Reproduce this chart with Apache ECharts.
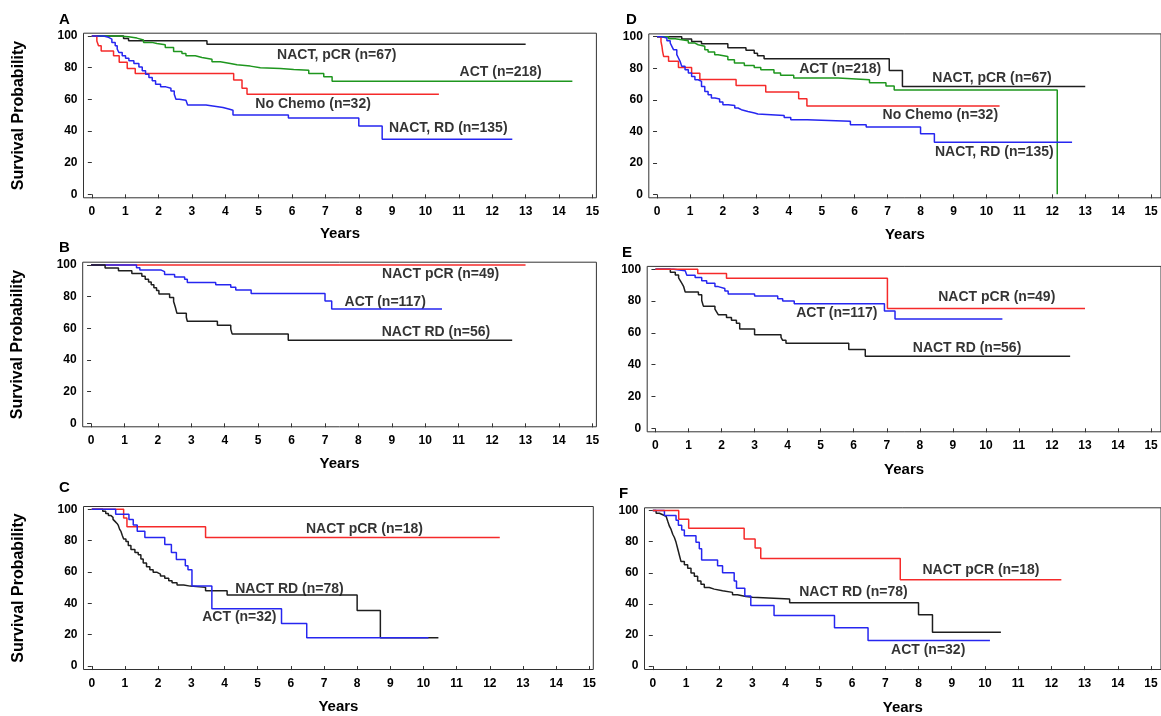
<!DOCTYPE html>
<html><head><meta charset="utf-8">
<script src="https://cdn.jsdelivr.net/npm/echarts@6/dist/echarts.min.js"></script>
<style>html,body{margin:0;padding:0;background:#fff}#c{width:1161px;height:716px}</style>
</head><body><div id="c"></div>
<script>
// ---------- tick labels ----------
const xTicks = [0,1,2,3,4,5,6,7,8,9,10,11,12,13,14,15];
const yTicks = [0,20,40,60,80,100];

// ---------- Panel A ----------
const A_nactPCR = [[0,100],[0.95,98.5],[1.1,97],[3.45,94.8],[13.0,94.8]];
const A_act = [[0,100],[0.8,99.6],[1.1,98.7],[1.35,97.5],[1.55,96],[1.8,95.3],[1.95,94.5],[2.2,92.8],[2.45,90.3],[2.7,89],[2.82,87.5],[3.1,86.5],[3.3,85.4],[3.6,83.7],[3.85,82.7],[4.15,81.8],[4.35,81],[4.75,79.9],[5.05,79.5],[5.65,78.9],[6.05,78.4],[6.5,76.4],[6.95,74.3],[7.2,71.5],[14.4,71.5]];
const A_noChemo = [[0,100],[0.15,96.9],[0.2,93.8],[0.28,90.6],[0.65,87.5],[0.82,83.5],[1.06,79.5],[1.3,76.3],[4.25,72.3],[4.5,67],[4.65,63.2],[10.4,63.2]];
const A_nactRD = [[0,100],[0.35,100],[0.4,99.2],[0.5,98.1],[0.6,96],[0.7,93.9],[0.76,91.8],[0.81,89.6],[0.91,87.5],[1.01,86],[1.11,84.4],[1.26,82.7],[1.41,80.5],[1.51,78],[1.61,75.9],[1.71,73.8],[1.81,71.7],[1.91,69.6],[2.06,67.9],[2.22,67],[2.37,65.3],[2.47,63.2],[2.52,60],[2.62,59.4],[2.82,58.6],[2.87,56.4],[3.42,55.8],[3.47,55.2],[3.83,54.8],[3.93,53.7],[4.13,53.1],[4.23,50.1],[5.89,48.2],[8.0,43.2],[8.7,34.8],[12.6,34.8]];

// ---------- Panel B ----------
const B_nactPCR = [[0,100],[13.0,100]];
const B_act = [[0,100],[1.36,98.3],[1.46,96.8],[2.1,95.8],[2.2,94],[2.5,92.5],[2.8,91],[2.88,89],[3.73,87.6],[4.18,86],[4.33,84.2],[4.79,82],[7.0,77.3],[7.2,72.2],[10.5,72.2]];
const B_nactRD = [[0,100],[0.42,98.2],[0.82,96.4],[1.22,94.6],[1.52,92.9],[1.62,91.1],[1.72,89.3],[1.8,87.5],[1.88,85.7],[1.96,83.9],[2.03,81.7],[2.35,79.5],[2.47,77],[2.52,73.5],[2.57,69.5],[2.85,67],[2.88,64.5],[3.78,62],[4.18,59.5],[4.22,56.5],[5.9,52.5],[12.6,52.5]];

// ---------- Panel C ----------
const C_nactPCR = [[0,100],[0.96,94.4],[1.06,88.9],[3.43,82],[12.3,82]];
const C_act = [[0,100],[0.72,96.8],[1.12,93.5],[1.25,90],[1.37,86],[1.6,82],[2.2,77.5],[2.4,72.5],[2.55,68],[2.82,64],[2.9,61.5],[3.02,51],[3.62,36.5],[5.72,27.2],[6.48,18],[10.15,18]];
const C_nactRD = [[0,100],[0.33,98.7],[0.42,97.4],[0.5,96.1],[0.57,94.9],[0.64,93.6],[0.7,92.3],[0.76,91],[0.8,89.7],[0.84,87.2],[0.88,85.9],[0.92,83.3],[0.96,81],[1.03,79.5],[1.1,76.9],[1.18,74.4],[1.3,72.5],[1.4,71],[1.48,68.3],[1.55,65.8],[1.65,63.3],[1.75,61.5],[1.85,59.8],[1.97,58.7],[2.07,57.4],[2.2,56],[2.32,54.5],[2.42,53.2],[2.57,51.7],[2.77,51],[2.97,50.2],[3.43,48.1],[4.08,45.3],[8.0,35.5],[8.7,18],[10.45,18]];

// ---------- Panel D ----------
const D_nactPCR = [[0,100],[0.75,98.5],[1.05,97],[1.35,95.5],[2.15,93],[2.7,91.5],[2.95,89.5],[3.05,88],[3.25,86],[7.05,78.5],[7.45,68.5],[13.0,68.5]];
const D_act = [[0,100],[0.35,98.7],[0.55,98.1],[0.75,97.5],[0.95,96],[1.15,94.9],[1.25,93.9],[1.45,91.8],[1.55,90.3],[1.75,88.6],[1.85,87.5],[2.15,85.4],[2.35,83.3],[2.65,81.8],[2.95,80.5],[3.15,79.1],[3.55,77],[3.75,75.5],[4.15,73.8],[5.5,72.7],[6.45,70.8],[6.95,68.7],[7.2,66.2],[12.15,0]];
const D_noChemo = [[0,100],[0.12,96.9],[0.15,93.8],[0.17,90.6],[0.2,87.5],[0.35,84.4],[0.65,80.5],[1.05,76.8],[1.3,72.8],[2.4,69],[3.3,65],[4.3,60.6],[4.55,56],[10.4,56]];
const D_nactRD = [[0,100],[0.15,99.2],[0.3,97.5],[0.4,96],[0.45,93.9],[0.5,91.8],[0.6,88.6],[0.65,86.5],[0.7,84.4],[0.75,81.2],[0.85,79.1],[0.95,77],[1.05,74.8],[1.15,72.7],[1.25,71.7],[1.35,68.5],[1.45,65.3],[1.55,63.2],[1.65,61.1],[1.76,60.5],[1.9,58.6],[2.0,56.9],[2.16,56.4],[2.36,54.8],[2.46,53.7],[2.56,52.6],[2.76,51.6],[2.96,51],[3.06,50.1],[3.86,48.8],[4.06,47.4],[4.56,46.3],[5.87,44.2],[6.35,42.8],[8.0,38.5],[8.42,33],[12.6,33]];

// ---------- Panel E ----------
const E_nactPCR = [[0,100],[1.28,97.3],[2.15,94.4],[7.02,75.4],[13.0,75.4]];
const E_act = [[0,100],[0.55,99],[0.9,97.9],[0.95,96.2],[1.2,94.8],[1.4,92.7],[1.55,91.2],[1.8,89.1],[1.9,87.9],[2.1,86.4],[2.2,84.5],[3.0,83.2],[3.7,81.5],[3.85,80],[4.2,78.3],[6.93,73.8],[7.25,68.7],[10.5,68.7]];
const E_nactRD = [[0,100],[0.45,98.2],[0.6,96.4],[0.7,94.6],[0.75,92.9],[0.8,91.1],[0.85,89.3],[0.9,85.7],[1.3,83.9],[1.4,80.4],[1.45,76.8],[1.8,75],[1.85,73.2],[1.9,71.4],[2.15,69.6],[2.3,67.9],[2.45,66.1],[2.55,62.5],[3.0,58.9],[3.8,57.1],[3.85,55.3],[3.95,53.5],[5.85,49.6],[6.35,45.3],[12.55,45.3]];

// ---------- Panel F ----------
const F_nactPCR = [[0,100],[0.78,94.4],[1.08,88.6],[2.75,81.8],[3.08,75.9],[3.25,69.2],[7.45,55.5],[12.3,55.5]];
const F_act = [[0,100],[0.35,96.9],[0.7,93.8],[0.77,90.6],[0.87,87.5],[0.95,83.8],[1.3,79.6],[1.4,75.5],[1.47,68.2],[1.95,64.5],[2.1,60],[2.45,54.7],[2.52,50],[2.77,45],[2.95,39],[3.65,32.6],[5.47,24.6],[6.48,16.4],[10.15,16.4]];
const F_nactRD = [[0,100],[0.1,98.3],[0.2,97.3],[0.3,96.3],[0.4,95.2],[0.45,93.1],[0.5,90],[0.55,87.9],[0.6,84.8],[0.65,82.7],[0.7,79.6],[0.75,75.5],[0.8,71.3],[0.85,67.2],[0.95,65.1],[1.05,63],[1.15,59.9],[1.25,57.8],[1.35,54.7],[1.45,52.6],[1.55,50.5],[1.7,49.5],[1.85,48.4],[2.1,47.4],[2.4,45.9],[2.55,44.7],[2.8,44.3],[3.0,43.2],[4.12,40.8],[8.0,33],[8.42,21.7],[10.48,21.7]];

// ---------- styling / layout ----------
const FONT = '"Liberation Sans", Arial, Helvetica, sans-serif';
const COL = {black:'#1e1e1e', green:'#1e961e', red:'#f52a2a', blue:'#2626f0'};
const X_MIN = -0.25, Y_MIN = -2.2, Y_MAX = 101.8;

const panels = [
  {letter:'A', letterPos:[65,21], xMax:15.12, grid:{left:83.5,top:33.2,width:512.9,height:164.6}, yName:true, nameGap:29,
   series:[[A_nactPCR,'black'],[A_act,'green'],[A_noChemo,'red'],[A_nactRD,'blue']],
   labels:[['NACT, pCR (n=67)',7.34,88],['ACT (n=218)',12.25,77],['No Chemo (n=32)',6.63,57],['NACT, RD (n=135)',10.68,41.7]]},
  {letter:'B', letterPos:[65,249], xMax:15.12, grid:{left:82.7,top:262.2,width:513.7,height:164.6}, yName:true, nameGap:29.5,
   series:[[B_nactPCR,'red'],[B_act,'blue'],[B_nactRD,'black']],
   labels:[['NACT pCR (n=49)',10.46,94.3],['ACT (n=117)',8.8,76.8],['NACT RD (n=56)',10.32,57.9]]},
  {letter:'C', letterPos:[65,489], xMax:15.12, grid:{left:83.5,top:506.5,width:509.8,height:163},  yName:true, nameGap:30,
   series:[[C_nactRD,'black'],[C_nactPCR,'red'],[C_act,'blue']],
   labels:[['NACT pCR (n=18)',8.22,87.2],['NACT RD (n=78)',5.96,49.1],['ACT (n=32)',4.45,31.1]]},
  {letter:'D', letterPos:[632,21], xMax:15.3, grid:{left:648.8,top:33.9,width:523.6,height:163.9}, yName:false, nameGap:29.5,
   series:[[D_nactPCR,'black'],[D_act,'green'],[D_noChemo,'red'],[D_nactRD,'blue']],
   labels:[['ACT (n=218)',5.56,79.5],['NACT, pCR (n=67)',10.17,74],['No Chemo (n=32)',8.6,50],['NACT, RD (n=135)',10.24,26.6]]},
  {letter:'E', letterPos:[628,254], xMax:15.3, grid:{left:647.2,top:266.4,width:524.5,height:165.4}, yName:false, nameGap:31,
   series:[[E_nactRD,'black'],[E_act,'blue'],[E_nactPCR,'red']],
   labels:[['NACT pCR (n=49)',10.33,82.4],['ACT (n=117)',5.49,72.7],['NACT RD (n=56)',9.43,50.2]]},
  {letter:'F', letterPos:[625,495], xMax:15.3, grid:{left:644.5,top:507.8,width:524.8,height:166.4}, yName:false, nameGap:30.5,
   series:[[F_nactRD,'black'],[F_act,'blue'],[F_nactPCR,'red']],
   labels:[['NACT pCR (n=18)',9.88,61.9],['NACT RD (n=78)',6.04,47.3],['ACT (n=32)',8.29,10.4]]}
];

const grids = [], xAxes = [], yAxes = [], series = [], graphics = [];
panels.forEach((p, i) => {
  grids.push(Object.assign({show:true, borderColor:'#333', borderWidth:1, backgroundColor:'transparent'}, p.grid));
  xAxes.push({
    gridIndex:i, type:'value', min:X_MIN, max:p.xMax,
    axisLine:{show:false},
    axisTick:{show:true, customValues:xTicks, length:4, lineStyle:{color:'#333', width:1}},
    axisLabel:{customValues:xTicks, margin:8, color:'#000', fontFamily:FONT, fontWeight:'bold', fontSize:12},
    splitLine:{show:false},
    name:'Years', nameLocation:'middle', nameGap:p.nameGap,
    nameTextStyle:{color:'#000', fontFamily:FONT, fontWeight:'bold', fontSize:15}
  });
  yAxes.push({
    gridIndex:i, type:'value', min:Y_MIN, max:Y_MAX,
    axisLine:{show:false},
    axisTick:{show:true, customValues:yTicks, length:4, lineStyle:{color:'#333', width:1}},
    axisLabel:{customValues:yTicks, margin:6, color:'#000', fontFamily:FONT, fontWeight:'bold', fontSize:12},
    splitLine:{show:false},
    name: p.yName ? 'Survival Probability' : '', nameLocation:'middle', nameGap:57,
    nameTextStyle:{color:'#000', fontFamily:FONT, fontWeight:'bold', fontSize:16}
  });
  p.series.forEach(([d, c]) => {
    series.push({type:'line', xAxisIndex:i, yAxisIndex:i, step:'end', data:d, showSymbol:false,
      symbol:'none', silent:true, animation:false, clip:true,
      lineStyle:{color:COL[c], width:1.5}});
  });
  series.push({type:'scatter', xAxisIndex:i, yAxisIndex:i, symbolSize:1, silent:true, animation:false,
    itemStyle:{color:'rgba(0,0,0,0)'},
    data: p.labels.map(l => ({name:l[0], value:[l[1], l[2]]})),
    label:{show:true, position:'inside', formatter:'{b}', color:'#000', fontFamily:FONT, fontWeight:'bold', fontSize:14}});
  graphics.push({type:'text', left:p.letterPos[0]-6, top:p.letterPos[1]-9,
    style:{text:p.letter, fill:'#000', font:'bold 15px ' + FONT}});
});

const chart = echarts.init(document.getElementById('c'), null, {renderer:'canvas'});
chart.setOption({
  animation:false, backgroundColor:'#fff',
  grid:grids, xAxis:xAxes, yAxis:yAxes, series:series, graphic:graphics
});
</script></body></html>
